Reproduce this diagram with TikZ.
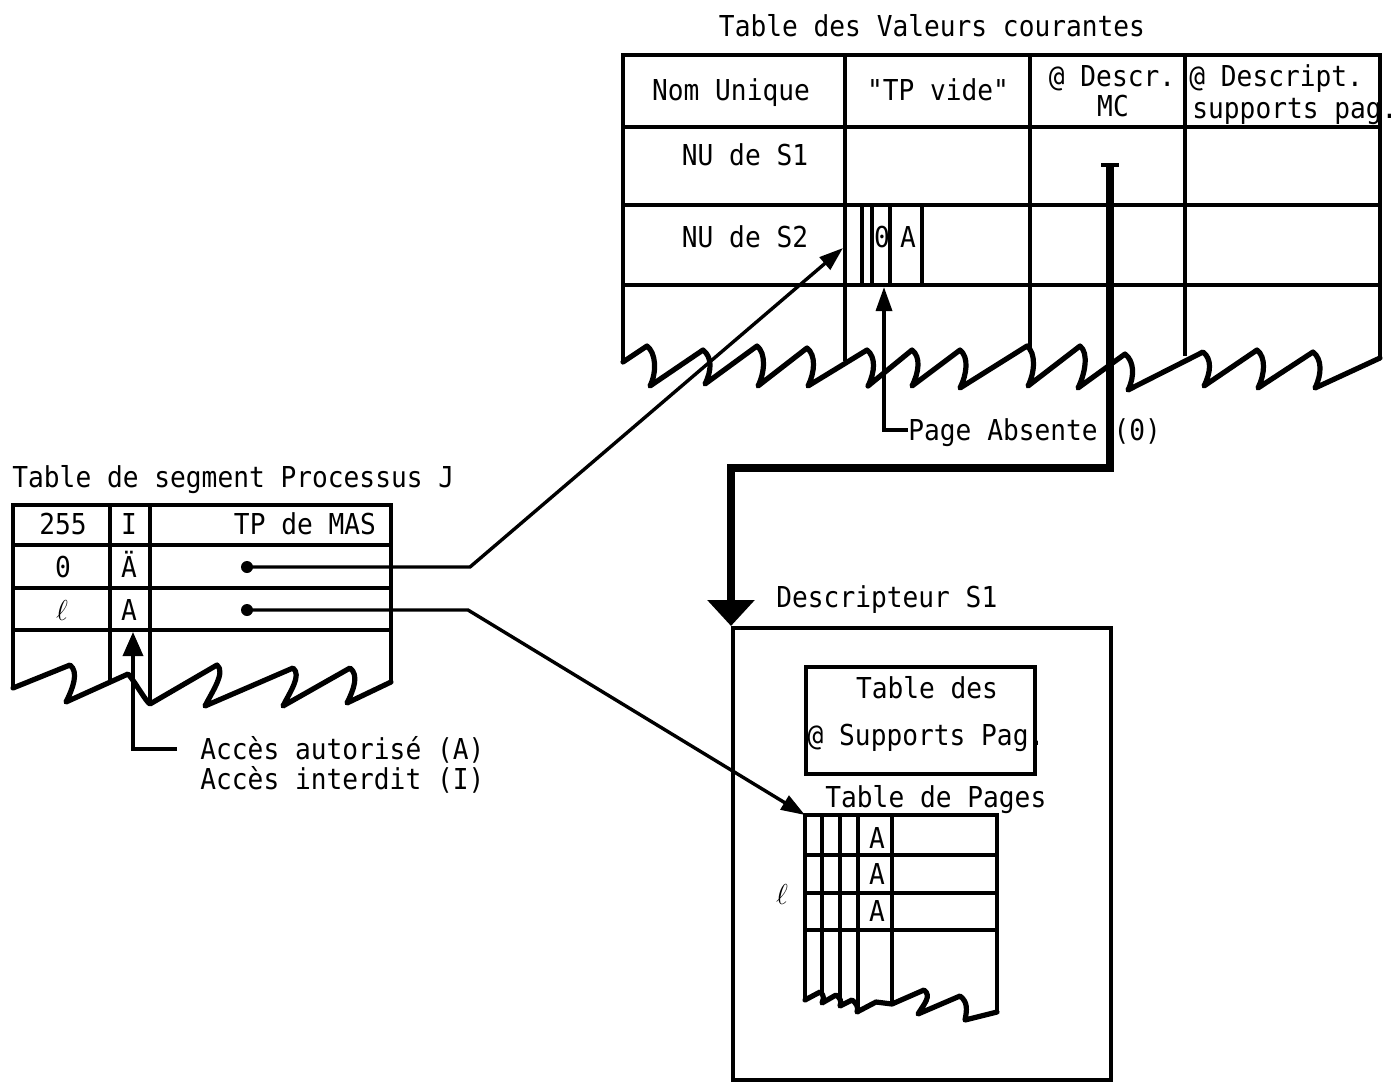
\documentclass[tikz,border=0pt]{standalone}
\usepackage{fontspec}
\setmainfont[FakeStretch=0.91,Ligatures=TeXOff]{DejaVu Sans Mono}
\usetikzlibrary{arrows.meta}
\begin{document}
\begin{tikzpicture}[x=0.5pt,y=-0.5pt,
  lbl/.style={inner sep=0pt,font=\fontsize{14.4pt}{16pt}\selectfont,text height=10.5pt,text depth=0pt},
  tline/.style={line width=1.9pt},
  wave/.style={line width=2.6pt,line join=round,line cap=round},
  arr/.style={line width=1.7pt,-{Triangle[length=12pt,width=8pt]}},
  arrb/.style={line width=1.8pt,-{Triangle[length=12pt,width=10pt]}},
  fat/.style={line width=4pt,-{Triangle[length=13pt,width=23pt]}},
  dot/.style={circle,fill,inner sep=0pt,minimum size=6pt},
]
\fill[white] (0,0) rectangle (1399,1082);
\useasboundingbox (0,0) rectangle (1399,1082);

% ---------------- Table des Valeurs courantes ----------------
\node[lbl] (tvc) at (932,26) {Table des Valeurs courantes};
\draw[tline] (623,362) -- (623,55) -- (1380,55) -- (1380,358);
\foreach \y in {127,205,285} \draw[tline] (623,\y) -- (1380,\y);
\draw[tline] (845,55) -- (845,361);
\draw[tline] (1030,55) -- (1030,352);
\draw[tline] (1185,55) -- (1185,356);
\draw[wave] (623,362)
  foreach \px/\py/\bx/\by in {647/346/650/386, 703/350/705/384, 757/346/758/386, 807/348/808/386,
    867/350/868/386, 912/350/912/386, 960/350/960/388, 1027/346/1028/386, 1080/346/1078/388,
    1125/354/1128/390, 1203/352/1204/386, 1257/350/1258/388, 1313/352/1315/388}
  { -- (\px,\py) .. controls +(9,7) and +(7,-14) .. (\bx,\by) }
  -- (1380,358);

\node[lbl] (nu) at (731,90) {Nom Unique};
\node[lbl] (tpv) at (938,90) {"TP vide"};
\node[lbl] (dmc1) at (1112,76) {@ Descr.};
\node[lbl] (dmc2) at (1113,106) {MC};
\node[lbl,anchor=west] (dsp1) at (1189,76) {@ Descript.};
\node[lbl,anchor=west] (dsp2) at (1192,108) {supports pag.};
\node[lbl] (nus1) at (745,155) {NU de S1};
\node[lbl] (nus2) at (745,237) {NU de S2};

\node[lbl] (zero) at (882,237) {0};
\node[lbl] (aa) at (908,237) {A};
\draw[line width=2.4pt] (862,205) -- (862,285);
\foreach \x in {872,890,922} \draw[tline] (\x,205) -- (\x,285);
\coordinate (tpS2) at (843,248);
\coordinate (paTip) at (884,287);

\node[lbl,anchor=west] (pa) at (908,430) {Page Absente (0)};
\draw[arr] (pa.west) -| (paTip);

% ---------------- thick arrow to Descripteur ----------------
\node[draw,tline,anchor=north west,minimum width=189pt,minimum height=226pt,inner sep=0pt] (desc) at (731,626) {};
\coordinate (mcTop) at (1110,165);
\draw[line width=2.4pt] ([xshift=-4.5pt]mcTop) -- ([xshift=4.5pt]mcTop);
\draw[fat] (mcTop) -- (1110,468) -| (desc.north west);

\node[lbl,anchor=west] (dS1) at (776,597) {Descripteur S1};
\node[draw,tline,anchor=north west,minimum width=114.5pt,minimum height=53.5pt,inner sep=0pt] (tsup) at (804,665) {};
\node[lbl] (tsup1) at (927,688) {Table des};
\node[lbl] (tsup2) at (926,735) {@ Supports Pag.};

% ---------------- Table de Pages ----------------
\node[lbl,anchor=west] (tdp) at (825,797) {Table de Pages};
\coordinate (ptTL) at (805,815);
\draw[tline] (805,1000) -- (ptTL) -- (997,815) -- (997,1012);
\foreach \y in {855,893,930} \draw[tline] (805,\y) -- (997,\y);
\draw[tline] (822,815) -- (822,995);
\draw[tline] (840,815) -- (840,1003);
\draw[tline] (858,815) -- (858,1008);
\draw[tline] (892,815) -- (892,1003);
\draw[wave] (805,1000) -- (820,992) .. controls +(4,3) and +(2,-5) .. (822,1003) -- (836,995)
  .. controls +(4,3) and +(2,-5) .. (840,1006) -- (852,1000) .. controls +(4,3) and +(2,-5) .. (857,1012)
  -- (876,1002) -- (892,1004) -- (924,990) .. controls +(8,6) and +(6,-10) .. (918,1014)
  -- (960,996) .. controls +(8,6) and +(2,-10) .. (965,1020) -- (997,1012);
\node[lbl] (pa1) at (877,838) {A};
\node[lbl] (pa2) at (877,874) {A};
\node[lbl] (pa3) at (877,911) {A};
\node[lbl] (pel) at (782,894) {$\ell$};

% ---------------- Table de segment Processus J ----------------
\node[lbl,anchor=west] (tsp) at (12,477) {Table de segment Processus J};
\draw[tline] (13,688) -- (13,505) -- (391,505) -- (391,682);
\foreach \y in {545,588,630} \draw[tline] (13,\y) -- (391,\y);
\draw[tline] (110,505) -- (110,682);
\draw[line width=2.4pt] (150,505) -- (150,704);
\draw[wave] (13,688) -- (70,665) .. controls +(9,7) and +(7,-14) .. (66,702) -- (128,674)
  .. controls +(6,6) and +(-4,-2) .. (150,704) -- (217,665) .. controls +(9,7) and +(7,-14) .. (205,706)
  -- (293,668) .. controls +(9,7) and +(7,-14) .. (283,706) -- (350,668)
  .. controls +(9,7) and +(7,-14) .. (347,703) -- (391,682);

\node[lbl] (c255) at (63,524) {255};
\node[lbl] (cI) at (129,524) {I};
\node[lbl] (ctp) at (305,524) {TP de MAS};
\node[lbl] (c0) at (63,567) {0};
\node[lbl] (cA0) at (129,567) {Ä};
\node[lbl] (cl) at (62,610) {$\ell$};
\node[lbl] (cAl) at (129,610) {A};

\node[dot] (d0) at (247,567) {};
\node[dot] (dl) at (247,610) {};
\coordinate (b0) at (470,567);
\coordinate (bl) at (468,610);
\draw[arr] (d0.center) -- (b0) -- (tpS2);
\draw[arr] (dl.center) -- (bl) -- (ptTL);

\coordinate (accTip) at (133,632);
\node[lbl,anchor=west] (acc1) at (200,749) {Accès autorisé (A)};
\node[lbl,anchor=west] (acc2) at (200,779) {Accès interdit (I)};
\draw[arrb] ([xshift=-11.5pt]acc1.west) -| (accTip);
\end{tikzpicture}
\end{document}
